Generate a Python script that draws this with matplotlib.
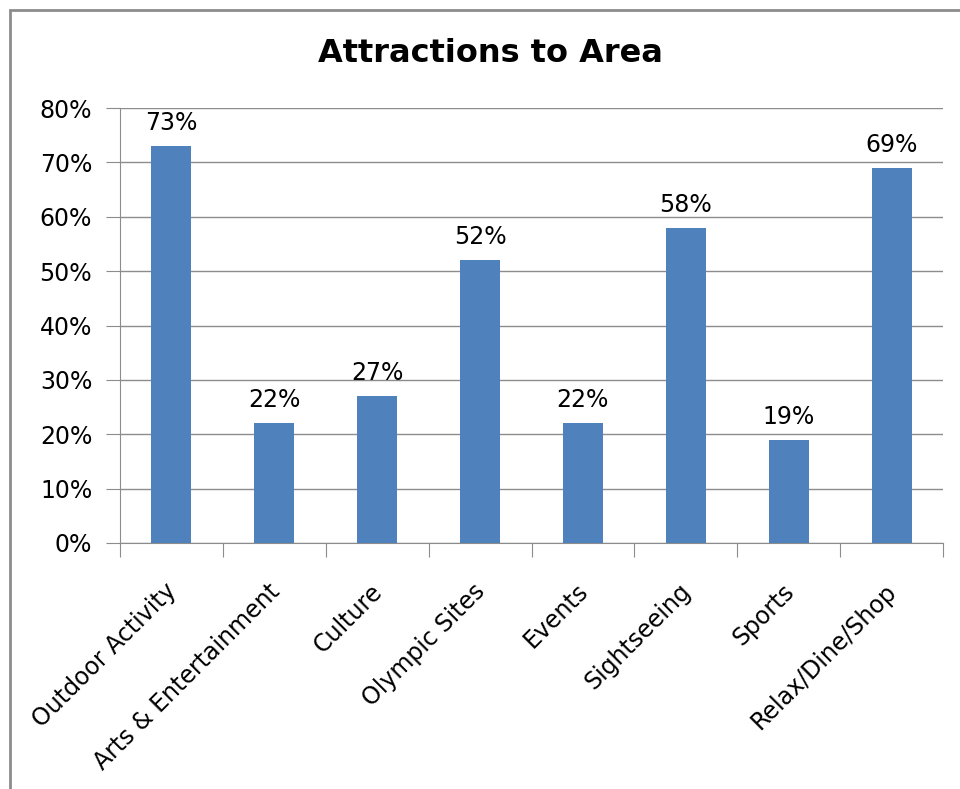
import matplotlib.pyplot as plt
from matplotlib.patches import Rectangle
from matplotlib.transforms import ScaledTranslation

categories = ['Outdoor Activity', 'Arts & Entertainment', 'Culture', 'Olympic Sites',
              'Events', 'Sightseeing', 'Sports', 'Relax/Dine/Shop']
shares = [73, 22, 27, 52, 22, 58, 19, 69]
yticks = [0, 10, 20, 30, 40, 50, 60, 70, 80]

plt.rcParams['font.family'] = 'DejaVu Sans'

fig = plt.figure(figsize=(9.6, 7.89), dpi=100)
fig.patch.set_facecolor('white')

# chart frame, open on the right and bottom edges
fig.patches.append(Rectangle((10 / 960, -0.1), 1.2, 1 - 10 / 789 + 0.1,
                             transform=fig.transFigure, fill=False,
                             edgecolor='#8c8c8c', linewidth=2))

ax = fig.add_axes([120 / 960, 1 - 543 / 789, 823 / 960, 435 / 789])
x = list(range(len(categories)))
bars = ax.bar(x, shares, width=0.39, color='#4f81bd', zorder=3)

for xi, v in zip(x, shares):
    ax.annotate('{0}%'.format(v), (xi, v), xytext=(0, 8), textcoords='offset points',
                ha='center', va='bottom', fontsize=17)

ax.set_xlim(-0.5, len(categories) - 0.5)
ax.set_ylim(0, 80)
ax.set_yticks(yticks)
ax.set_yticklabels(['{0}%'.format(t) for t in yticks], fontsize=17)
ax.yaxis.grid(True, color='#8c8c8c', linewidth=1, zorder=0)

ax.set_xticks([i - 0.5 for i in range(len(categories) + 1)])
ax.set_xticklabels([])
ax.set_xticks(x, minor=True)
ax.set_xticklabels(categories, minor=True, rotation=45, ha='right',
                   rotation_mode='anchor', fontsize=17)
ax.tick_params(axis='x', which='minor', length=0, pad=26)
ax.tick_params(axis='x', which='major', length=10, color='#8c8c8c')
ax.tick_params(axis='y', length=10, color='#8c8c8c', pad=10)

# nudge the slanted category names a little to the left
shift = ScaledTranslation(-7 / 100, 0, fig.dpi_scale_trans)
for lbl in ax.get_xticklabels(minor=True):
    lbl.set_transform(lbl.get_transform() + shift)

for side in ['top', 'right']:
    ax.spines[side].set_visible(False)
for side in ['left', 'bottom']:
    ax.spines[side].set_color('#8c8c8c')

fig.text(490 / 960, 1 - 54 / 789, 'Attractions to Area', ha='center', va='center',
         fontsize=23, fontweight='bold')

fig.savefig('out.png', dpi=100)
